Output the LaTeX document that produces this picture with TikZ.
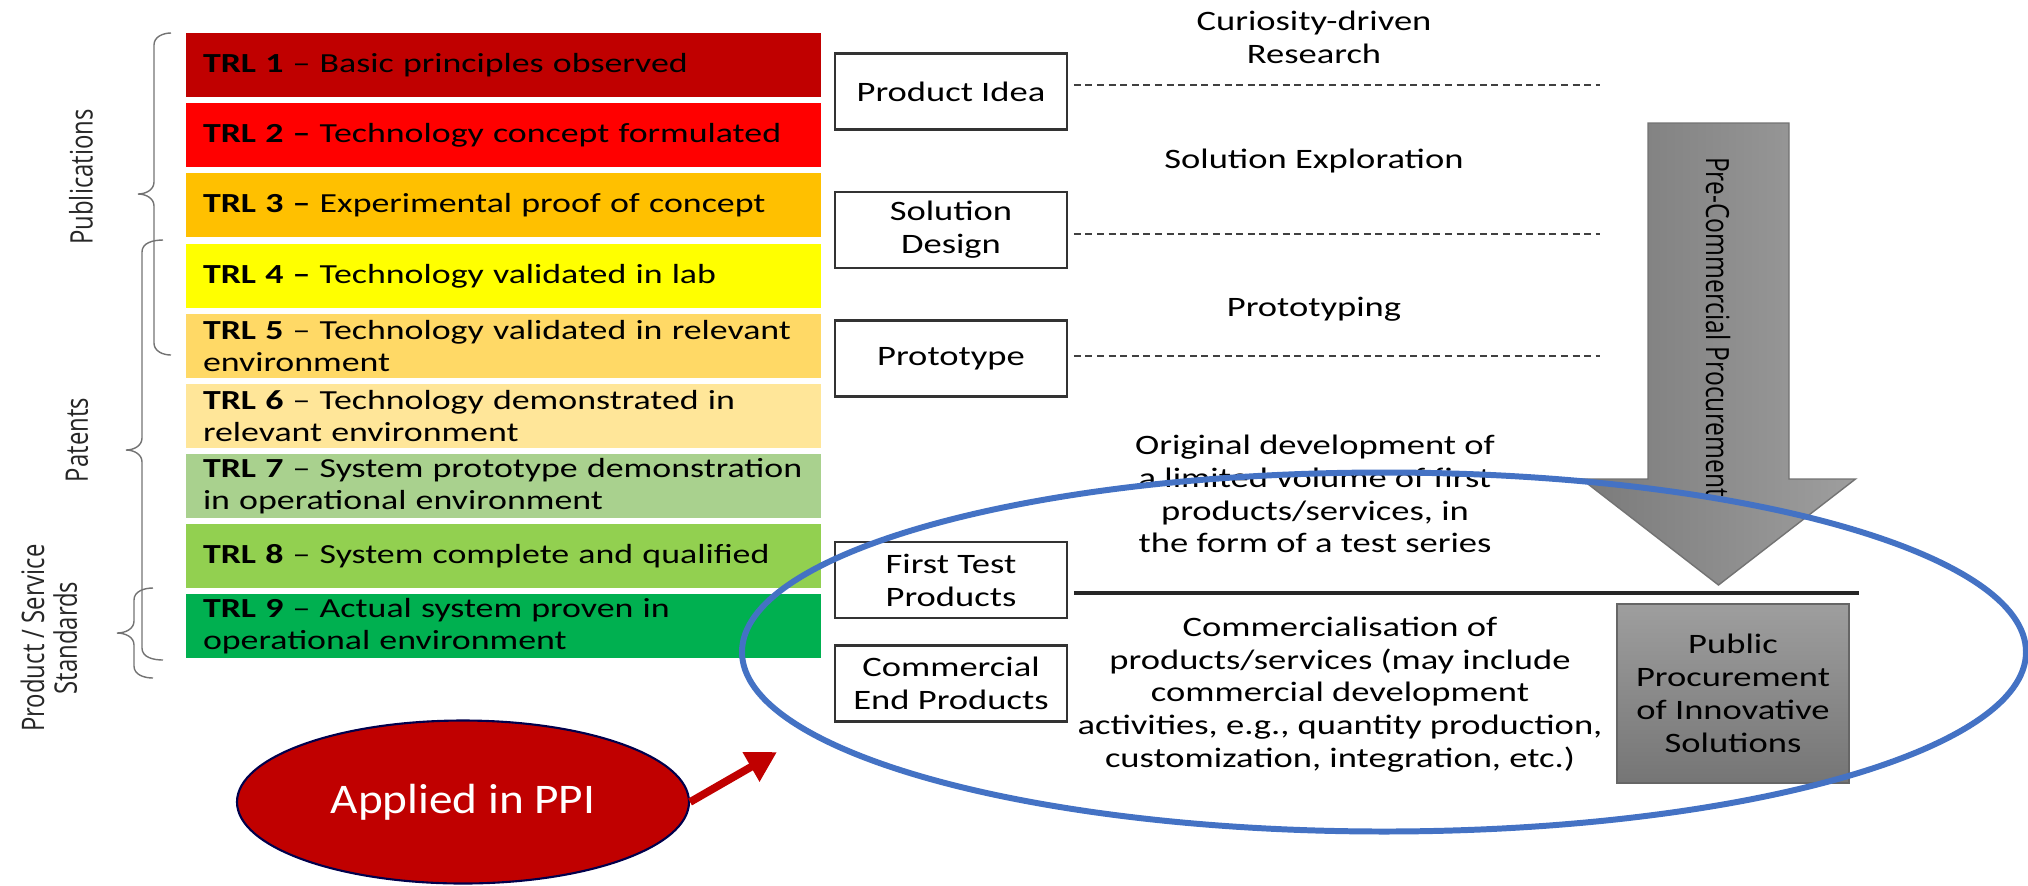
\documentclass[tikz,border=0pt]{standalone}
\usepackage{fontspec}
\setmainfont{Carlito}[FakeStretch=1.3]
\newfontfamily\sidefont{Open Sans}
\newfontfamily\ppifont[FakeStretch=1.12]{Carlito}
\usetikzlibrary{positioning,shapes,arrows.meta}

\definecolor{trl1}{HTML}{C00000}
\definecolor{trl2}{HTML}{FF0000}
\definecolor{trl3}{HTML}{FFC000}
\definecolor{trl4}{HTML}{FFFF00}
\definecolor{trl5}{HTML}{FFD966}
\definecolor{trl6}{HTML}{FFE699}
\definecolor{trl7}{HTML}{A9D18E}
\definecolor{trl8}{HTML}{92D050}
\definecolor{trl9}{HTML}{00B050}
\definecolor{focusblue}{HTML}{4472C4}
\definecolor{ppired}{HTML}{C00000}

\begin{document}
\begin{tikzpicture}[
  trlbar/.style={
    rectangle,
    minimum width=6.35cm,
    minimum height=0.645cm,
    text width=6.01cm,
    inner xsep=0.17cm,
    inner ysep=0pt,
    align=left,
    font=\fontsize{7.85}{9.25}\selectfont
  },
  stagebox/.style={draw=black!80, fill=white, line width=0.6pt, minimum width=2.315cm,
    minimum height=0.76cm, align=center, inner sep=1pt, font=\fontsize{8}{9.4}\selectfont},
  phase/.style={align=center, font=\fontsize{8}{9.3}\selectfont},
  sidelabel/.style={text=black!85, align=center, font=\sidefont\fontsize{6.8}{8.2}\selectfont},
  brace/.style={draw=black!55, thin},
  dashline/.style={draw=black!75, thin, dash pattern=on 2pt off 1.3pt},
  splitline/.style={draw=black!85, line width=1pt},
  ppiarrow/.style={-{Triangle[length=0.3cm,width=0.32cm]}, draw=ppired, line width=2.2pt}
]
\useasboundingbox (0,0) rectangle (20.28,-8.85);

% TRL bars
\node[trlbar, fill=trl1] (trl1) at (5.035,-0.65) {\textbf{TRL 1} -- Basic principles observed};
\node[trlbar, fill=trl2] (trl2) at (5.035,-1.35) {\textbf{TRL 2 --} Technology concept formulated};
\node[trlbar, fill=trl3] (trl3) at (5.035,-2.05) {\textbf{TRL 3 --} Experimental proof of concept};
\node[trlbar, fill=trl4] (trl4) at (5.035,-2.76) {\textbf{TRL 4 --} Technology validated in lab};
\node[trlbar, fill=trl5] (trl5) at (5.035,-3.46) {\mbox{\textbf{TRL 5} -- Technology validated in relevant}\\environment};
\node[trlbar, fill=trl6] (trl6) at (5.035,-4.16) {\mbox{\textbf{TRL 6} -- Technology demonstrated in}\\relevant environment};
\node[trlbar, fill=trl7] (trl7) at (5.035,-4.86) {\mbox{\textbf{TRL 7} -- System prototype demonstration}\\in operational environment};
\node[trlbar, fill=trl8] (trl8) at (5.035,-5.56) {\textbf{TRL 8} -- System complete and qualified};
\node[trlbar, fill=trl9] (trl9) at (5.035,-6.26) {\mbox{\textbf{TRL 9} -- Actual system proven in}\\operational environment};

% Braces and output labels
\draw[brace] (1.71,-0.33) to[out=180,in=90] (1.54,-0.45) -- (1.54,-1.82) to[out=-90,in=0] (1.38,-1.94)
  to[out=0,in=90] (1.54,-2.06) -- (1.54,-3.43) to[out=-90,in=180] (1.71,-3.55);
\draw[brace] (1.63,-2.40) to[out=180,in=90] (1.42,-2.52) -- (1.42,-4.38) to[out=-90,in=0] (1.26,-4.50)
  to[out=0,in=90] (1.42,-4.62) -- (1.42,-6.48) to[out=-90,in=180] (1.63,-6.60);
\draw[brace] (1.53,-5.88) to[out=180,in=90] (1.34,-6.00) -- (1.34,-6.21) to[out=-90,in=0] (1.17,-6.33)
  to[out=0,in=90] (1.34,-6.45) -- (1.34,-6.66) to[out=-90,in=180] (1.53,-6.78);
\node[sidelabel, rotate=90] (publab) at (0.81,-1.77) {\scalebox{1}[1.3]{Publications}};
\node[sidelabel, rotate=90] (patlab) at (0.77,-4.40) {\scalebox{1}[1.3]{Patents}};
\node[sidelabel, rotate=90] (stdlab) at (0.53,-6.38) {\scalebox{1}[1.3]{\begin{tabular}{@{}c@{}}Product / Service\\[-1pt]Standards\end{tabular}}};

% Stage boxes
\node[stagebox] (idea) at (9.51,-0.915) {Product Idea};
\node[stagebox] (design) at (9.51,-2.30) {Solution\\Design};
\node[stagebox] (proto) at (9.51,-3.585) {Prototype};
\node[stagebox] (first) at (9.51,-5.80) {First Test\\Products};
\node[stagebox] (endprod) at (9.51,-6.835) {Commercial\\End Products};

% Phase separators
\coordinate (d1) at (16.0,-0.85);
\coordinate (d2) at (16.0,-2.34);
\coordinate (d3) at (16.0,-3.56);
\coordinate (d4) at (18.59,-5.93);
\draw[dashline, shorten <=0.06cm] (idea.east |- d1) -- (d1);
\draw[dashline, shorten <=0.06cm] (design.east |- d2) -- (d2);
\draw[dashline, shorten <=0.06cm] (proto.east |- d3) -- (d3);
\draw[splitline, shorten <=0.06cm] (first.east |- d4) -- (d4);

% Phase texts
\node[phase] (curious) at (13.14,-0.375) {Curiosity-driven\\Research};
\node[phase] (explore) at (13.14,-1.61) {Solution Exploration};
\node[phase] (typing) at (13.14,-3.09) {Prototyping};
\node[phase] (original) at (13.15,-4.94) {Original development of\\a limited volume of first\\products/services, in\\the form of a test series};
\node[phase] (commerce) at (13.40,-6.945) {Commercialisation of\\products/services (may include\\commercial development\\activities, e.g., quantity production,\\customization, integration, etc.)};

% Pre-commercial arrow
\draw[draw=black!55, left color=black!52, right color=black!38]
  (16.48,-1.23) -- (17.89,-1.23) -- (17.89,-4.79) -- (18.555,-4.79)
  -- (17.185,-5.85) -- (15.815,-4.79) -- (16.48,-4.79) -- cycle;
\node[sidelabel, rotate=-90, text=black, font=\sidefont\fontsize{7}{8.4}\selectfont] (pcp) at (17.18,-3.27) {\scalebox{1}[1.3]{Pre-Commercial Procurement}};

% Public procurement box
\node[draw=black!60, top color=black!38, bottom color=black!54, minimum width=2.32cm,
  minimum height=1.79cm, align=center, font=\fontsize{8}{9.35}\selectfont] (ppibox) at (17.33,-6.935)
  {Public\\Procurement\\of Innovative\\Solutions};

% Focus ellipse
\node[ellipse, draw=focusblue, line width=1.7pt, minimum width=12.84cm, minimum height=3.59cm] (focus) at (13.84,-6.52) {};

% Applied in PPI
\node[ellipse, fill=ppired, draw=black!70!blue, line width=0.6pt, minimum width=4.52cm,
  minimum height=1.63cm, text=white, font=\ppifont\fontsize{12}{14}\selectfont] (ppi) at (4.63,-8.02) {Applied in PPI};
\coordinate (ppitip) at (7.77,-7.52);
\draw[ppiarrow] (ppi.east) -- (ppitip);

\end{tikzpicture}
\end{document}
